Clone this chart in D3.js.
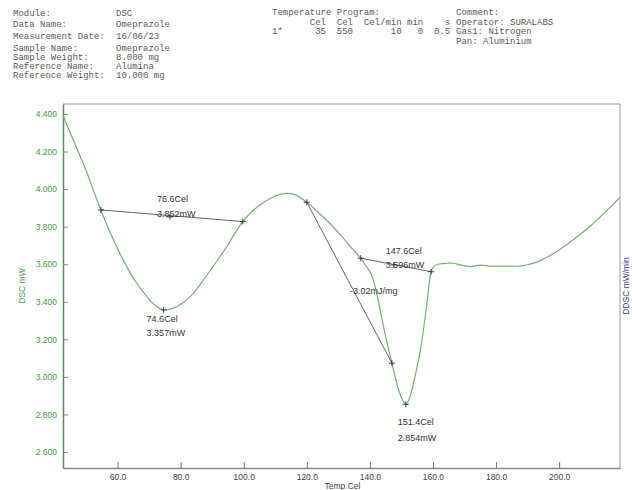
<!DOCTYPE html>
<html><head><meta charset="utf-8">
<script src="https://cdn.jsdelivr.net/npm/d3@7"></script>
<style>
html,body{margin:0;padding:0;background:#fff;}
svg{display:block;}
.mono{font-family:"Liberation Mono","DejaVu Sans Mono",monospace;font-size:9px;fill:#5a5a5a;white-space:pre;}
.ann{font-family:"Liberation Sans",Arial,sans-serif;font-size:9px;fill:#333;}
</style>
</head><body>
<script>
// ---- data ----
const headerLeft = [
  ["Module:", "DSC"],
  ["Data Name:", "Omeprazole"],
  ["Measurement Date:", "16/06/23"],
  ["Sample Name:", "Omeprazole"],
  ["Sample Weight:", "8.000 mg"],
  ["Reference Name:", "Alumina"],
  ["Reference Weight:", "10.000 mg"]
];
const headerMid = [
  "Temperature Program:",
  "       Cel  Cel  Cel/min min    s",
  "1*      35  550       10   0  0.5"
];
const headerRight = ["Comment:", "Operator: SURALABS", "Gas1: Nitrogen", "Pan: Aluminium"];

const tempC = [42.7,45,47.5,50,52.5,54.7,58,60.5,62.8,66,69.2,72,74.6,77,80.8,84,87.2,91,94.6,97,99.7,102,104.5,107,110,113.2,116,120,124,127.3,131,134,137.1,139,140.3,141.5,142.5,143.5,145,147,149.1,150.3,151.4,152.3,153.3,154.8,156.2,158.1,159.4,160.3,161.5,164.3,166.4,169,171.7,174.9,178,183,187.6,190,193.9,197,200.2,203,206.5,210,212.9,216,219.3];
const dscMW = [4.39,4.30,4.20,4.10,3.985,3.889,3.755,3.665,3.59,3.50,3.43,3.38,3.357,3.362,3.395,3.445,3.516,3.605,3.693,3.76,3.827,3.87,3.907,3.937,3.963,3.977,3.972,3.93,3.87,3.817,3.75,3.69,3.632,3.585,3.55,3.49,3.42,3.335,3.215,3.073,2.93,2.88,2.854,2.875,2.93,3.04,3.161,3.392,3.56,3.59,3.60,3.605,3.605,3.595,3.587,3.595,3.59,3.59,3.59,3.597,3.618,3.645,3.678,3.712,3.757,3.805,3.85,3.90,3.955];

const xTicks = [60,80,100,120,140,160,180,200];
const yTicks = [2.6,2.8,3.0,3.2,3.4,3.6,3.8,4.0,4.2,4.4];

const baselines = [
  [[54.7,3.889],[99.7,3.827]],
  [[137.1,3.632],[159.4,3.56]],
  [[120,3.93],[147,3.073]]
];
const markers = [[76.6,3.852],[74.6,3.357],[151.4,2.854],[147.6,3.596]];
const peakLabels = [
  {t:76.6, v:3.852, l1:"76.6Cel", l2:"3.852mW"},
  {t:74.6, v:3.357, l1:"74.6Cel", l2:"3.357mW"},
  {t:151.4, v:2.854, l1:"151.4Cel", l2:"2.854mW"},
  {t:147.6, v:3.596, l1:"147.6Cel", l2:"3.596mW"}
];
const areaLabel = {t:133.7, v:3.44, text:"-3.02mJ/mg"};

// ---- drawing ----
const W = 632, H = 490;
const svg = d3.select("body").append("svg").attr("width", W).attr("height", H);

// header
const rowsY = [13,24,36,48,57,66,75];
headerLeft.forEach((r,i) => {
  svg.append("text").attr("class","mono").attr("x",13).attr("y",rowsY[i]+3).text(r[0]);
  svg.append("text").attr("class","mono").attr("x",116).attr("y",rowsY[i]+3).text(r[1]);
});
headerMid.forEach((s,i) => {
  svg.append("text").attr("class","mono").attr("x",272).attr("y",15+i*9.5).text(s);
});
headerRight.forEach((s,i) => {
  svg.append("text").attr("class","mono").attr("x",456).attr("y",15+i*9.5).text(s);
});

const L = 63, R = 620, T = 104, B = 468;
const x = d3.scaleLinear().domain([42.7, 219.3]).range([L, R]);
const y = d3.scaleLinear().domain([2.515, 4.453]).range([B, T]);

// frame: top and right
svg.append("line").attr("x1",L).attr("x2",R).attr("y1",T).attr("y2",T).attr("stroke","#999").attr("stroke-width",1);
svg.append("line").attr("x1",R).attr("x2",R).attr("y1",T).attr("y2",B).attr("stroke","#999").attr("stroke-width",1);

// x axis
const xa = svg.append("g").attr("transform",`translate(0,${B})`)
  .call(d3.axisBottom(x).tickValues(xTicks).tickFormat(d3.format(".1f")).tickSizeInner(-6).tickSizeOuter(0).tickPadding(6));
xa.select(".domain").attr("stroke","#888").attr("stroke-width",1.5);
xa.selectAll(".tick line").attr("stroke","#777");
xa.selectAll("text").attr("fill","#444").style("font-family","Liberation Sans, Arial, sans-serif").style("font-size","8.5px");

// y axis
const ya = svg.append("g").attr("transform",`translate(${L},0)`)
  .call(d3.axisLeft(y).tickValues(yTicks).tickFormat(d3.format(".3f")).tickSizeInner(-5).tickSizeOuter(0).tickPadding(6));
ya.select(".domain").attr("stroke","#5a8a5a").attr("stroke-width",1.5);
ya.selectAll(".tick line").attr("stroke","#6a9a6a");
ya.selectAll("text").attr("fill","#3f9a3f").style("font-family","Liberation Sans, Arial, sans-serif").style("font-size","8.5px");

// axis titles
svg.append("text").attr("transform",`translate(${x((42.7+219.3)/2)+1},${B+21})`).attr("text-anchor","middle")
  .style("font-family","Liberation Sans, Arial, sans-serif").style("font-size","8.5px").attr("fill","#444").text("Temp Cel");
svg.append("text").attr("transform",`translate(25,${(T+B)/2}) rotate(-90)`).attr("text-anchor","middle")
  .style("font-family","Liberation Sans, Arial, sans-serif").style("font-size","8.5px").attr("fill","#3f9a3f").text("DSC mW");
svg.append("text").attr("transform",`translate(629,${(T+B)/2}) rotate(-90)`).attr("text-anchor","middle")
  .style("font-family","Liberation Sans, Arial, sans-serif").style("font-size","8.5px").attr("fill","#3a3a9a").text("DDSC mW/min");

// curve
const pts = tempC.map((t,i)=>[t, dscMW[i]]);
const line = d3.line().x(d=>x(d[0])).y(d=>y(d[1])).curve(d3.curveCatmullRom.alpha(0.5));
svg.append("path").datum(pts).attr("d", line).attr("fill","none").attr("stroke","#72b272").attr("stroke-width",1.2);

// baselines
baselines.forEach(b => {
  svg.append("line").attr("x1",x(b[0][0])).attr("y1",y(b[0][1])).attr("x2",x(b[1][0])).attr("y2",y(b[1][1]))
    .attr("stroke","#555").attr("stroke-width",0.9);
});
// cross markers
const allMarks = markers.concat(...baselines);
allMarks.forEach(m => {
  const cx = x(m[0]), cy = y(m[1]);
  svg.append("path").attr("d",`M${cx-3},${cy}H${cx+3}M${cx},${cy-3}V${cy+3}`).attr("stroke","#333").attr("stroke-width",0.9);
});

// labels
const offs = [[-13,-15,0],[-17,12,26],[-8,21,37],[-8,-11,3]];
peakLabels.forEach((p,i) => {
  const cx = x(p.t), cy = y(p.v), o = offs[i];
  svg.append("text").attr("class","ann").attr("x",cx+o[0]).attr("y",cy+o[1]).text(p.l1);
  svg.append("text").attr("class","ann").attr("x",cx+o[0]).attr("y",cy+o[2]).text(p.l2);
});
svg.append("text").attr("class","ann").attr("x",x(areaLabel.t)).attr("y",y(areaLabel.v)).text(areaLabel.text);
</script>
</body></html>
